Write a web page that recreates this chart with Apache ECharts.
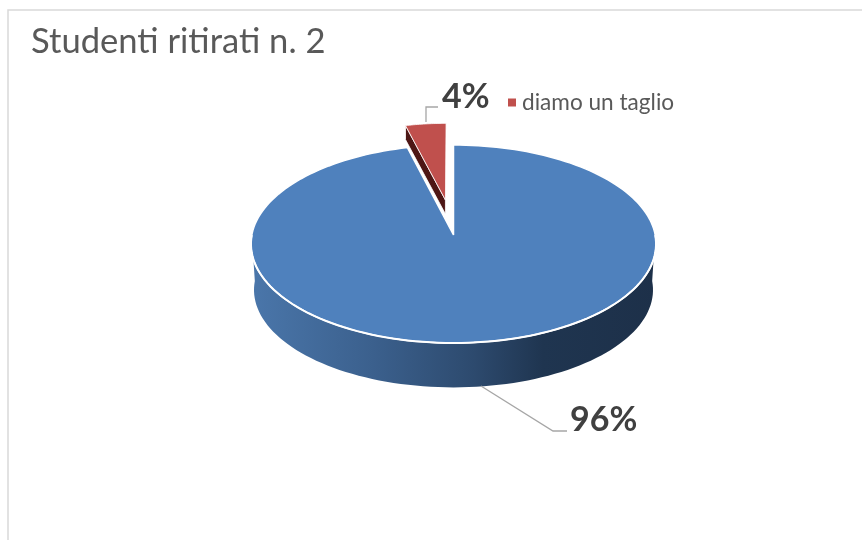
<!DOCTYPE html>
<html><head><meta charset="utf-8">
<style>html,body{margin:0;padding:0;background:#fff}#c{width:862px;height:540px}</style>
<script src="https://cdn.jsdelivr.net/npm/echarts@6/dist/echarts.min.js"></script>
</head><body><div id="c"></div>
<script>
const titleText = 'Studenti ritirati n. 2';
const categories = ['', 'diamo un taglio'];
const values = [96, 4];
const labelsText = ['96%', '4%'];
const sliceColors = ['#4f81bd', '#c0504d'];

const total = values.reduce((a, b) => a + b, 0);
const CX = 453.5, CY = 235, RX = 201.7, RY = 98.2, K = 0.0909, DEPTH = 46, BOTTOM = 0.985;
const EXPLODE = 0.371, SLICE_R = 0.9, SLICE_DEPTH = 14;

function project(u, v) {
  const s = 1 / (1 - K * v);
  return [CX + RX * u * s, CY + RY * v * s];
}
function rim(deg, r, ou, ov) {
  const a = deg * Math.PI / 180;
  return project((ou || 0) + r * Math.sin(a), (ov || 0) - r * Math.cos(a));
}
function projectLow(deg) {
  const a = deg * Math.PI / 180, u = Math.sin(a), v = -Math.cos(a), s = 1 / (1 - K * v);
  return [CX + BOTTOM * RX * u * s, CY + DEPTH + BOTTOM * RY * v * s];
}
function range(from, to, n) {
  const out = [];
  for (let i = 0; i <= n; i++) out.push(from + (to - from) * i / n);
  return out;
}

function renderBig(params, api) {
  const end = 360 * api.value(0) / total;
  const top = [project(0, 0)].concat(range(0, end, 180).map(d => rim(d, 1)));
  const front = range(90, 270, 90);
  const side = front.map(d => rim(d, 1)).concat(front.slice().reverse().map(projectLow));
  return {
    type: 'group',
    children: [
      { type: 'polygon', shape: { points: side }, style: {
        fill: { type: 'linear', x: 252, y: 0, x2: 656, y2: 0, global: true, colorStops: [
          { offset: 0, color: '#4a76aa' }, { offset: 0.3, color: '#3b608d' },
          { offset: 0.55, color: '#2d4a6e' }, { offset: 0.72, color: '#1f3550' }, { offset: 1, color: '#1d3049' }
        ] }, stroke: 'none' } },
      { type: 'polygon', shape: { points: top }, style: { fill: sliceColors[0], stroke: '#ffffff', lineWidth: 1.5, lineJoin: 'bevel' } },
      { type: 'polyline', shape: { points: front.map(d => rim(d, 1)) }, style: { fill: 'none', stroke: '#ffffff', lineWidth: 2 } },
      { type: 'polyline', shape: { points: [[481, 386], [553, 431], [567, 431]] }, style: { fill: 'none', stroke: '#a6a6a6', lineWidth: 1.3 } },
      { type: 'text', style: { text: labelsText[0], x: 570, y: 420, align: 'left', verticalAlign: 'middle',
        font: 'bold 34px Lato', fill: '#404040' } }
    ]
  };
}

function renderSmall(params, api) {
  const sweep = 360 * api.value(0) / total;
  const from = 360 - sweep, mid = from + sweep / 2, a = mid * Math.PI / 180;
  const ou = EXPLODE * Math.sin(a), ov = -EXPLODE * Math.cos(a);
  const shift = p => [p[0] + 1, p[1]];
  const apex = shift(project(ou, ov));
  const arc = range(from, 360, 20).map(d => shift(rim(d, SLICE_R, ou, ov)));
  const left = arc[0];
  const face = [left, apex, [apex[0], apex[1] + SLICE_DEPTH], [left[0], left[1] + SLICE_DEPTH]];
  return {
    type: 'group',
    children: [
      { type: 'polygon', shape: { points: face }, style: { fill: '#4d1614', stroke: '#ffffff', lineWidth: 0.8, lineJoin: 'bevel' } },
      { type: 'polygon', shape: { points: [apex].concat(arc) }, style: { fill: sliceColors[1], stroke: '#ffffff', lineWidth: 0.8, lineJoin: 'bevel' } },
      { type: 'polyline', shape: { points: [[426, 122], [426, 107], [438, 107]] }, style: { fill: 'none', stroke: '#a6a6a6', lineWidth: 1.3 } },
      { type: 'text', style: { text: labelsText[1], x: 442, y: 97, align: 'left', verticalAlign: 'middle',
        font: 'bold 34px Lato', fill: '#404040' } }
    ]
  };
}

const chart = echarts.init(document.getElementById('c'), null, { renderer: 'canvas' });
chart.setOption({
  animation: false,
  backgroundColor: '#ffffff',
  title: { text: titleText, left: 26, top: 19, textStyle: { fontFamily: 'Lato', fontWeight: 'normal', fontSize: 34.6, color: '#595959' } },
  legend: { data: [categories[1]], left: 503, top: 86, icon: 'rect', itemWidth: 8, itemHeight: 8, itemGap: 9,
    textStyle: { fontFamily: 'Lato', fontSize: 22.6, color: '#595959', padding: [0, 0, 0, 1] } },
  graphic: [
    { type: 'polyline', silent: true, shape: { points: [[8, 540], [8, 10], [862, 10]] }, style: { fill: 'none', stroke: '#d9d9d9', lineWidth: 1.5 } }
  ],
  series: [
    { type: 'custom', name: categories[0] || 'altri', coordinateSystem: 'none', renderItem: renderBig, data: [[values[0]]], itemStyle: { color: sliceColors[0] }, z: 2 },
    { type: 'custom', name: categories[1], coordinateSystem: 'none', renderItem: renderSmall, data: [[values[1]]], itemStyle: { color: sliceColors[1] }, z: 3 }
  ]
});
</script></body></html>
